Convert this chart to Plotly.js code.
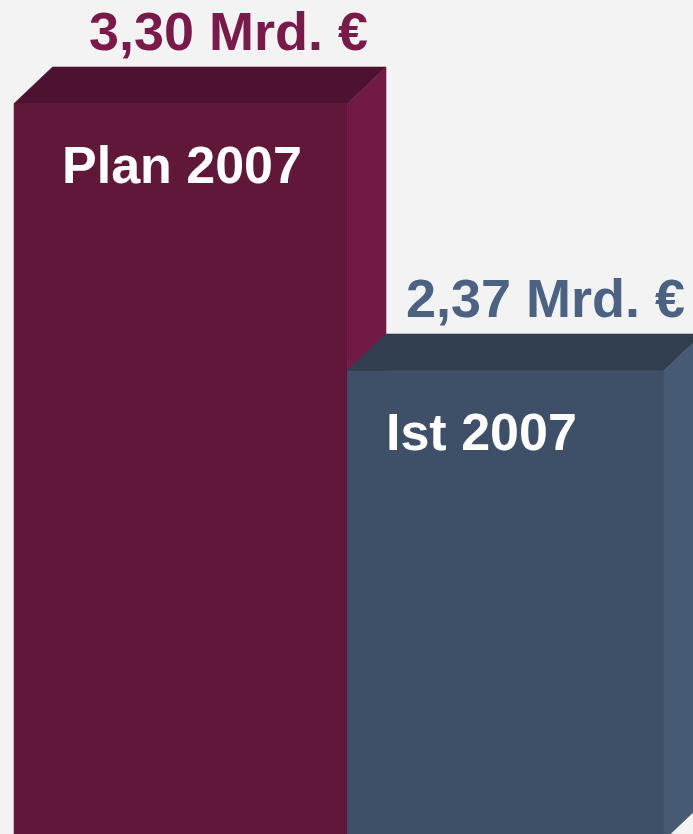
<!DOCTYPE html>
<html>
<head>
<meta charset="utf-8">
<script src="https://cdn.plot.ly/plotly-3.0.1.min.js"></script>
<style>
  html, body { margin: 0; padding: 0; background: #f3f3f3; overflow: hidden; }
  #chart { width: 693px; height: 834px; }
</style>
</head>
<body>
<div id="chart"></div>
<script>
// ---- data ----
const categories = ["Plan 2007", "Ist 2007"];
const values = [3.30, 2.37];
const valueLabels = ["3,30 Mrd. €", "2,37 Mrd. €"];

// ---- style ----
const frontColors = ["#611738", "#3e5067"];
const topColors   = ["#4d1230", "#313e50"];
const sideColors  = ["#711a45", "#465b73"];
const labelColors = ["#7a1a4a", "#4b6282"];
const halfWidths  = [0.513, 0.487];
const DX = 0.1185;     // depth in x (axis units)
const DY = 0.127;      // depth in y (axis units)
const BASE = 0.735;    // bar base
const innerShift = [47, 38];

const traces = [];
function poly(xs, ys, color) {
  traces.push({
    type: "scatter", mode: "lines", fill: "toself",
    x: xs.concat([xs[0]]), y: ys.concat([ys[0]]),
    fillcolor: color, line: {color: color, width: 0.6},
    hoverinfo: "skip", showlegend: false
  });
}
const annotations = [];
values.forEach((v, i) => {
  const c = i, w = halfWidths[i];
  // front face
  poly([c - w, c + w, c + w, c - w], [BASE, BASE, v, v], frontColors[i]);
  // top face
  poly([c - w, c + w, c + w + DX, c - w + DX], [v, v, v + DY, v + DY], topColors[i]);
  // side face
  poly([c + w, c + w + DX, c + w + DX, c + w], [BASE, BASE + DY, v + DY, v], sideColors[i]);
  annotations.push({
    x: c + w, y: v + DY, xref: "x", yref: "y",
    text: valueLabels[i], showarrow: false,
    xanchor: "right", yanchor: "middle", xshift: 22, yshift: 36, borderpad: 0,
    font: {family: "Liberation Sans, Arial, sans-serif", size: 54, color: labelColors[i], weight: "bold"}
  });
  annotations.push({
    x: c - w, y: v, xref: "x", yref: "y",
    text: categories[i], showarrow: false,
    xanchor: "left", yanchor: "middle", xshift: innerShift[i], yshift: -61, borderpad: 0,
    font: {family: "Liberation Sans, Arial, sans-serif", size: 52, color: "#ffffff", weight: "bold"}
  });
});

const layout = {
  width: 693, height: 834,
  margin: {l: 0, r: 0, t: 0, b: 0},
  paper_bgcolor: "#f3f3f3", plot_bgcolor: "#f3f3f3",
  xaxis: {range: [-0.5562, 1.5762], visible: false, fixedrange: true},
  yaxis: {range: [0.7556, 3.6605], visible: false, fixedrange: true},
  annotations: annotations,
  showlegend: false
};
Plotly.newPlot("chart", traces, layout, {staticPlot: true, displayModeBar: false});
</script>
</body>
</html>
